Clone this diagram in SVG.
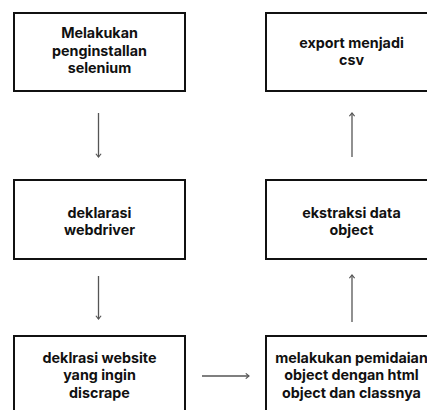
<svg xmlns="http://www.w3.org/2000/svg" width="427" height="410" viewBox="0 0 427 410">
<style>
.box{fill:#fff;stroke:#111;stroke-width:2}
.t{font-family:Inter,"Liberation Sans",sans-serif;font-weight:700;font-size:14.3px;fill:#111;text-anchor:middle}
.c{stroke:#555;stroke-width:1.3;fill:none}
</style>
<defs>
<marker id="a" viewBox="0 0 10 10" refX="9" refY="5" markerWidth="6.5" markerHeight="6.5" markerUnits="userSpaceOnUse" orient="auto">
<path d="M4,1 L9,5 L4,9" fill="none" stroke="#555" stroke-width="1.8"/>
</marker>
</defs>
<rect width="427" height="410" fill="#fff"/>
<g id="n1"><rect class="box" x="14" y="13" width="171" height="78"/>
<text class="t" x="99.5" y="38">Melakukan</text><text class="t" x="99.5" y="55.5">penginstallan</text><text class="t" x="99.5" y="73">selenium</text></g>
<g id="n2"><rect class="box" x="266" y="13" width="171" height="78"/>
<text class="t" x="351.5" y="48">export menjadi</text><text class="t" x="351.5" y="65">csv</text></g>
<g id="n3"><rect class="box" x="14" y="180" width="171" height="79"/>
<text class="t" x="99.5" y="218">deklarasi</text><text class="t" x="99.5" y="235">webdriver</text></g>
<g id="n4"><rect class="box" x="266" y="180" width="171" height="79"/>
<text class="t" x="351.5" y="218">ekstraksi data</text><text class="t" x="351.5" y="235">object</text></g>
<g id="n5"><rect class="box" x="14" y="336" width="171" height="90"/>
<text class="t" x="99.5" y="363">deklrasi website</text><text class="t" x="99.5" y="380">yang ingin</text><text class="t" x="99.5" y="397.5">discrape</text></g>
<g id="n6"><rect class="box" x="266" y="336" width="171" height="90"/>
<text class="t" x="351.5" y="363">melakukan pemidaian</text><text class="t" x="351.5" y="380">object dengan html</text><text class="t" x="351.5" y="397.5">object dan classnya</text></g>
<g id="connectors">
<line class="c" x1="98.5" y1="113" x2="98.5" y2="157" marker-end="url(#a)"/>
<line class="c" x1="98.5" y1="276" x2="98.5" y2="319" marker-end="url(#a)"/>
<line class="c" x1="202" y1="376" x2="249" y2="376" marker-end="url(#a)"/>
<line class="c" x1="352" y1="322" x2="352" y2="275" marker-end="url(#a)"/>
<line class="c" x1="352" y1="157" x2="352" y2="113" marker-end="url(#a)"/>
</g>
</svg>
